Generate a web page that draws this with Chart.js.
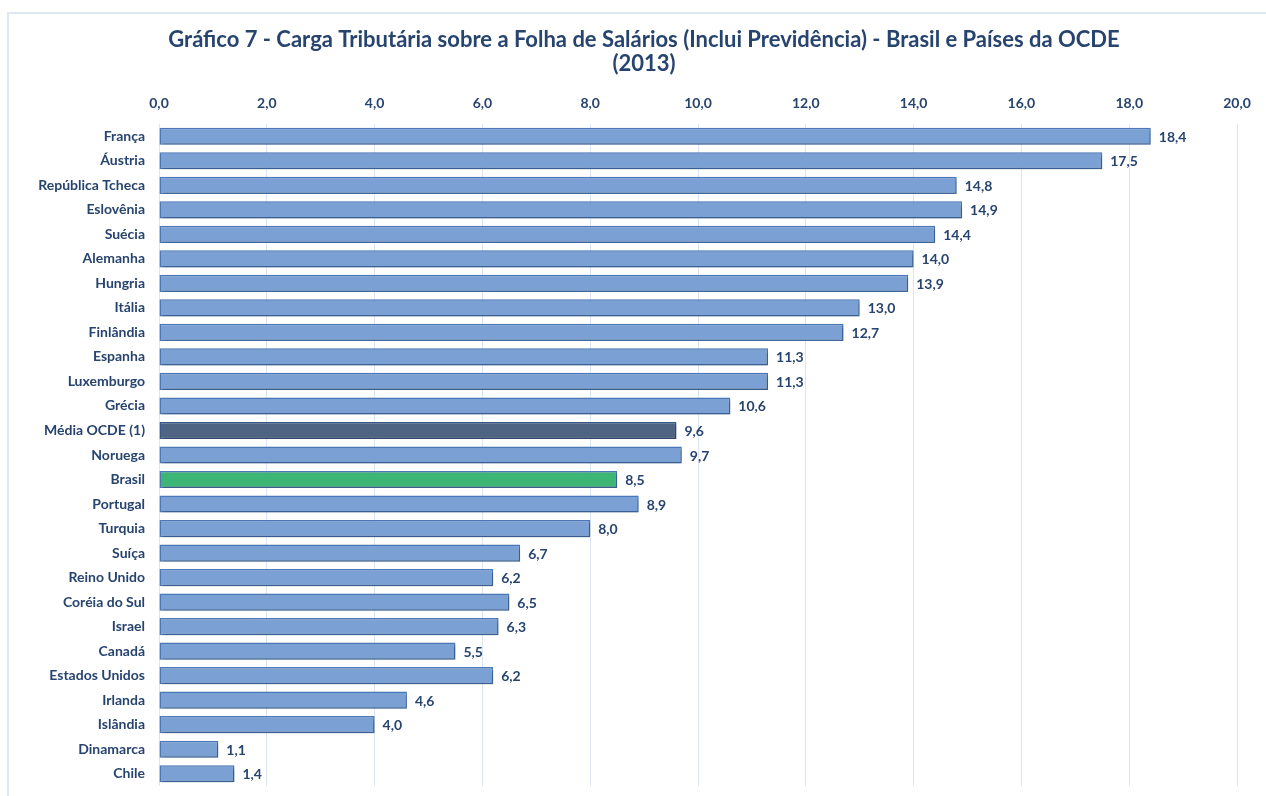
<!DOCTYPE html>
<html>
<head>
<meta charset="utf-8">
<script src="https://cdn.jsdelivr.net/npm/chart.js@4.4.1/dist/chart.umd.min.js"></script>
<style>
  html, body { margin: 0; padding: 0; background: #fff; }
  #wrap { position: relative; width: 1266px; height: 796px; }
  #frame { position: absolute; left: 7px; top: 12px; width: 1270px; height: 800px;
           border-left: 2px solid #dfe7f3; border-top: 2px solid #dfe7f3; }
  canvas { position: absolute; left: 0; top: 0; }
</style>
</head>
<body>
<div id="wrap">
  <div id="frame"></div>
  <canvas id="chart" width="1266" height="796"></canvas>
</div>
<script>
// ---------------- data ----------------
const countries = ['França', 'Áustria', 'República Tcheca', 'Eslovênia', 'Suécia', 'Alemanha',
  'Hungria', 'Itália', 'Finlândia', 'Espanha', 'Luxemburgo', 'Grécia', 'Média OCDE (1)',
  'Noruega', 'Brasil', 'Portugal', 'Turquia', 'Suíça', 'Reino Unido', 'Coréia do Sul',
  'Israel', 'Canadá', 'Estados Unidos', 'Irlanda', 'Islândia', 'Dinamarca', 'Chile'];
const cargaTributaria = [18.4, 17.5, 14.8, 14.9, 14.4, 14.0, 13.9, 13.0, 12.7, 11.3, 11.3, 10.6, 9.6,
  9.7, 8.5, 8.9, 8.0, 6.7, 6.2, 6.5, 6.3, 5.5, 6.2, 4.6, 4.0, 1.1, 1.4];
const titleLines = ['Gráfico 7 - Carga Tributária sobre a Folha de Salários (Inclui Previdência) - Brasil e Países da OCDE', '(2013)'];
const xMin = 0, xMax = 20, xStep = 2;

const navy = '#27446f';
const fontFam = 'Lato, "Open Sans", sans-serif';
const fmt = v => v.toFixed(1).replace('.', ',');

function barColor(name) {
  if (name === 'Brasil') return '#3db574';
  if (name.indexOf('OCDE') >= 0) return '#4e6482';
  return '#7aa0d4';
}
function barBorder(name) {
  if (name.indexOf('OCDE') >= 0) return '#3a5a8c';
  return '#4a78b8';
}

// title drawn by hand so it can sit a bit right of the canvas centre, like the original
const titlePlugin = {
  id: 'bigTitle',
  afterDraw(chart) {
    const c = chart.ctx;
    c.save();
    c.font = 'bold 22px ' + fontFam;
    c.fillStyle = navy;
    c.textAlign = 'center';
    c.textBaseline = 'middle';
    const cx = chart.width / 2 + 11;
    titleLines.forEach((t, i) => c.fillText(t, cx, 40 + i * 24));
    c.restore();
  }
};

// shadow under bars
const shadowPlugin = {
  id: 'barShadow',
  beforeDatasetDraw(chart) {
    const c = chart.ctx;
    c.save();
    c.shadowColor = 'rgba(0,0,0,0.28)';
    c.shadowBlur = 3;
    c.shadowOffsetX = 2;
    c.shadowOffsetY = 2;
  },
  afterDatasetDraw(chart) {
    chart.ctx.restore();
  }
};

// value labels next to bars
const valueLabels = {
  id: 'valueLabels',
  afterDatasetsDraw(chart) {
    const c = chart.ctx;
    const meta = chart.getDatasetMeta(0);
    c.save();
    c.font = 'bold 14px ' + fontFam;
    c.fillStyle = navy;
    c.textAlign = 'left';
    c.textBaseline = 'middle';
    meta.data.forEach((bar, i) => {
      c.fillText(fmt(cargaTributaria[i]), bar.x + 8, bar.y + 1);
    });
    c.restore();
  }
};

let ctx = document.getElementById('chart').getContext('2d');
let myChart = new Chart(ctx, {
  type: 'bar',
  data: {
    labels: countries,
    datasets: [{
      data: cargaTributaria,
      backgroundColor: countries.map(barColor),
      borderColor: countries.map(barBorder),
      borderWidth: 1.5,
      borderSkipped: false,
      barPercentage: 0.7,
      categoryPercentage: 1.0
    }]
  },
  options: {
    indexAxis: 'y',
    responsive: false,
    animation: false,
    layout: { padding: { left: 10, right: 29, top: 96, bottom: 10 } },
    plugins: {
      legend: { display: false },
      tooltip: { enabled: false },
      title: { display: false }
    },
    scales: {
      x: {
        position: 'top',
        min: xMin,
        max: xMax,
        border: { display: false },
        grid: { color: '#dce5f2', drawTicks: false, lineWidth: 1 },
        ticks: {
          stepSize: xStep,
          padding: 12,
          color: navy,
          font: { family: fontFam, size: 14, weight: 'bold' },
          callback: v => fmt(v)
        },
        afterFit(scale) { scale.height = 28; }
      },
      y: {
        border: { display: false },
        grid: { display: false, drawTicks: false },
        ticks: {
          padding: 14,
          autoSkip: false,
          color: navy,
          font: { family: fontFam, size: 14, weight: 'bold' }
        },
        afterFit(scale) {
          scale.width = 149;
          scale.paddingTop = 0;
          scale.paddingBottom = 0;
        }
      }
    }
  },
  plugins: [shadowPlugin, valueLabels, titlePlugin]
});
</script>
</body>
</html>
